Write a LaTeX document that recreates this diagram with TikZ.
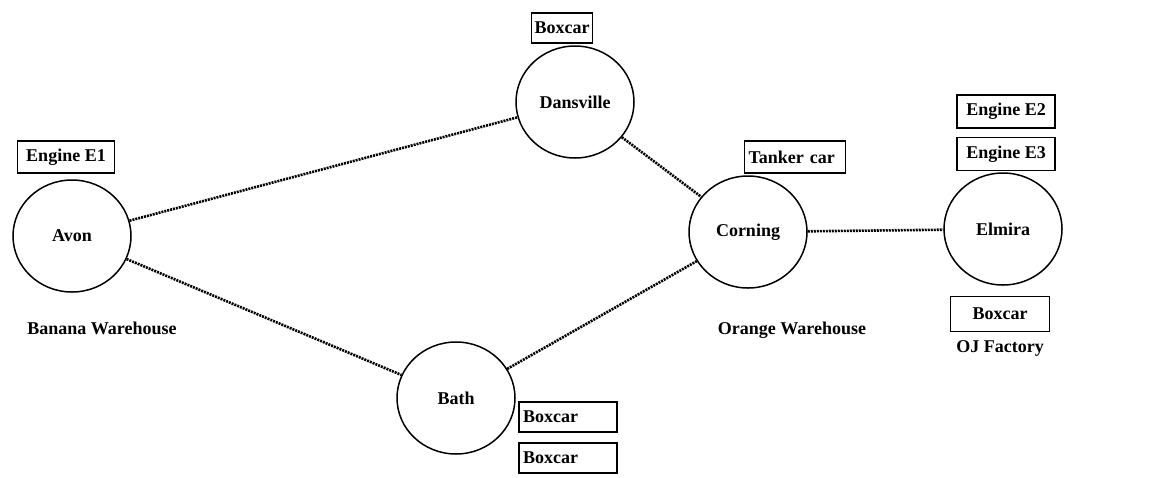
\documentclass[tikz,border=0pt]{standalone}
\usepackage{fontspec}
\setmainfont{Liberation Serif}
\usepackage{tikz}
\usetikzlibrary{shapes.geometric, positioning}

\newcommand{\mapfont}{\fontsize{18}{21}\selectfont\bfseries}

\tikzset{
  town/.style={ellipse, draw, line width=1.5pt, inner sep=0pt,
    minimum width=118pt, minimum height=112pt, font=\mapfont},
  car/.style={draw, line width=1.1pt, inner sep=3pt,
    minimum height=30pt, font=\mapfont},
  site/.style={font=\mapfont},
  track/.style={line width=2.6pt, dash pattern=on 2pt off 1pt}
}

\begin{document}
\begin{tikzpicture}[x=1pt, y=-1pt]

\useasboundingbox (0,0) rectangle (1166,477);

% Towns
\node[town] (avon)      at (72,236)    {Avon};
\node[town] (dansville) at (575,102)   {Dansville};
\node[town] (corning)   at (748,232)   {Corning};
\node[town] (elmira)    at (1003,229)  {Elmira};
\node[town] (bath)      at (456,398)   {Bath};

% Tracks
\draw[track] (avon) -- (dansville);
\draw[track] (dansville) -- (corning);
\draw[track] (corning) -- (elmira);
\draw[track] (avon) -- (bath);
\draw[track] (bath) -- (corning);

% Cars and engines
\node[car, minimum width=61pt]  (boxD)    at (562,28)   {Boxcar};
\node[car, minimum width=97pt, minimum height=32pt] (engE1) at (66,157) {Engine E1};
\node[car, text width=93pt, inner sep=4pt, minimum height=32pt] (tanker) at (795,157) {Tanker car};
\node[car, minimum width=98pt, minimum height=33pt] (engE2) at (1006,111.5) {Engine E2};
\node[car, minimum width=98pt, minimum height=33pt] (engE3) at (1006,154)   {Engine E3};
\node[car, minimum width=99pt, minimum height=35pt] (boxO) at (1000,314) {Boxcar};
\node[car, text width=90pt, inner sep=4pt] (boxB1) at (568,417) {Boxcar};
\node[car, text width=90pt, inner sep=4pt] (boxB2) at (568,458) {Boxcar};

% Sites
\node[site] (banana) at (102,328)  {Banana Warehouse};
\node[site] (orange) at (792,330)  {Orange Warehouse};
\node[site] (ojf)    at (1000,348) {OJ Factory};

\end{tikzpicture}
\end{document}
